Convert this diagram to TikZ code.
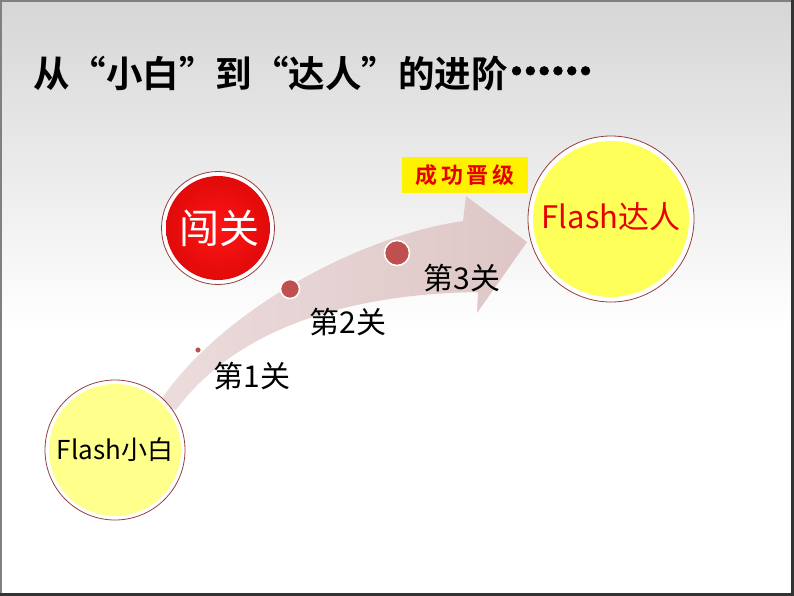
\documentclass[tikz,border=0pt]{standalone}
\usepackage{fontspec}
\newfontfamily\cjk{Noto Sans CJK SC}
\newfontfamily\cjkb{Noto Sans CJK SC Bold}
\newfontfamily\dvb{DejaVu Sans}[FakeBold=2,LetterSpace=-13]
\definecolor{bgtop}{RGB}{214,214,214}
\definecolor{ringred}{RGB}{150,60,60}
\definecolor{arrowc}{RGB}{222,198,198}
\definecolor{arrowl}{RGB}{236,220,220}
\definecolor{dotred}{RGB}{192,80,77}
\definecolor{badred}{RGB}{230,0,0}
\definecolor{circred}{RGB}{225,10,10}
\definecolor{lightyel}{RGB}{255,255,140}
\definecolor{yel}{RGB}{255,255,90}
\tikzset{
  ringcirc/.style={circle,draw=ringred,line width=0.8pt,fill=white,inner sep=0pt},
  lvl/.style={font=\cjk\fontsize{30}{30}\selectfont,text=black,inner sep=0pt},
  dotn/.style={circle,fill=dotred,draw=white,line width=1.5pt,inner sep=0pt},
}
\begin{document}
\begin{tikzpicture}[x=1pt,y=-1pt]
\useasboundingbox (0,0) rectangle (794,596);
% background
\shade[top color=bgtop,bottom color=white] (0,0) rectangle (794,330);
\fill[white] (0,330) rectangle (794,596);
% arrow
\path[left color=arrowl,right color=arrowc]
  (158,404) .. controls (220,310) and (360,236) .. (463,221)
  -- (466,196) -- (527,242) -- (477,313) -- (478,292)
  .. controls (345,294) and (235,330) .. (176,410) -- cycle;
% start circle
\node[ringcirc,minimum size=140pt] (sr) at (115,450) {};
\node[circle,fill=lightyel,minimum size=132pt,inner sep=0pt] (s) at (115,450) {};
\node[font=\cjk\fontsize{26}{26}\selectfont] (st) at (115,450) {Flash小白};
% end circle
\node[ringcirc,minimum size=166pt] (er) at (611,219) {};
\node[circle,fill=yel,minimum size=156pt,inner sep=0pt] (e) at (611,219) {};
\node[font=\cjk\fontsize{31}{31}\selectfont,text=badred] (et) at (611,217) {Flash达人};
% red circle
\node[ringcirc,minimum size=113pt] (rr) at (218,228) {};
\node[circle,inner color=red!92!white,outer color=circred,minimum size=104pt,inner sep=0pt] (r) at (218,228) {};
\node[font=\cjk\fontsize{40}{40}\selectfont,text=white] (rt) at (219,228) {闯关};
% dots
\node[dotn,minimum size=7pt] (d1) at (198,350) {};
\node[dotn,minimum size=19pt] (d2) at (290,289) {};
\node[dotn,minimum size=25pt] (d3) at (397,253) {};
% labels
\node[lvl] (l1) at (252,376) {第1关};
\node[lvl] (l2) at (348,322) {第2关};
\node[lvl] (l3) at (462,278) {第3关};
% badge
\node[fill=yellow,minimum width=126pt,minimum height=36pt,inner sep=0pt,text=badred,font=\cjkb\fontsize{22}{22}\selectfont] (b) at (465,175) {成\,功\,晋\,级};
% title
\node[anchor=west,inner sep=0pt,font=\cjkb\fontsize{36.5}{36.5}\selectfont] (t) at (33,74) {从“小白”到“达人”的进阶{\dvb\fontsize{30}{30}\selectfont\raisebox{6pt}{••••••}}};
% frame
\draw[gray,line width=2pt] (1,596) -- (1,1) -- (794,1);
\draw[black!80,line width=3pt] (792.5,0) -- (792.5,594.5) -- (0,594.5);
\end{tikzpicture}
\end{document}
